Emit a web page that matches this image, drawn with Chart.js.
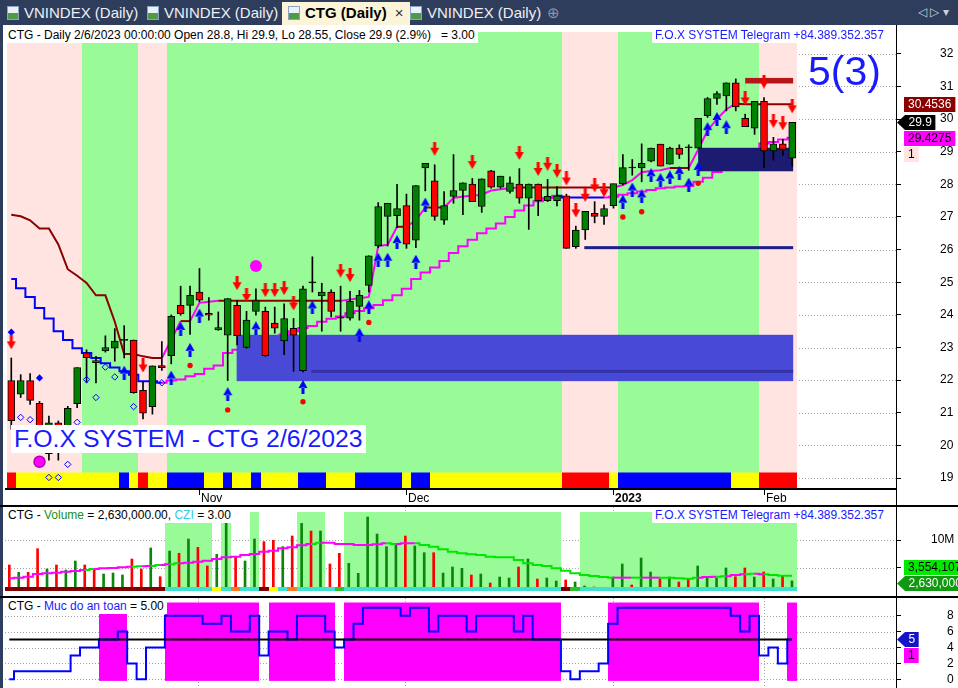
<!DOCTYPE html>
<html><head><meta charset="utf-8">
<script src="https://cdn.jsdelivr.net/npm/chart.js@4.4.0/dist/chart.umd.min.js"></script>
<style>
html,body{margin:0;padding:0;background:#fff;}
body{width:958px;height:688px;position:relative;overflow:hidden;font-family:"Liberation Sans",Arial,sans-serif;}
canvas{position:absolute;left:0;}
#tabs{position:absolute;left:0;top:0;width:958px;height:25px;background:#2e3d5b;}
.tab{position:absolute;top:0;height:25px;line-height:25px;font-size:15px;color:#eef0f4;white-space:nowrap;}
.tab.active{top:2px;height:23px;line-height:22px;background:#fbf4d8;color:#000;font-weight:bold;padding:0 6px 0 6px;}
.ico{display:inline-block;width:12px;height:14px;vertical-align:-2px;margin-right:5px;background:linear-gradient(#eaf1fb 0 50%,#4f9a46 50% 100%);border:1px solid #8aa2c4;box-sizing:border-box;}
.box{position:absolute;background:#fff;white-space:nowrap;font-size:12px;line-height:16px;height:16px;padding:0 3px;}
.hl{position:absolute;background:#000;}
</style></head><body>
<div id="tabs">
  <div class="tab" style="left:7px"><span class="ico"></span>VNINDEX (Daily)</div>
  <div class="tab" style="left:147px"><span class="ico"></span>VNINDEX (Daily)</div>
  <div class="tab active" style="left:282px"><span class="ico"></span>CTG (Daily) <span style="font-weight:normal;color:#333;margin-left:4px">×</span></div>
  <div class="tab" style="left:410px"><span class="ico"></span>VNINDEX (Daily)</div>
  <div class="tab" style="left:547px;color:#8a96aa">⊕</div>
  <div class="tab" style="left:918px;font-size:12px;color:#c9d0dc">◁ ▷ ▾</div>
</div>

<canvas id="cMain" width="958" height="480" style="top:25px"></canvas>
<canvas id="cVol" width="958" height="89" style="top:507px"></canvas>
<canvas id="cLvl" width="958" height="90" style="top:598px"></canvas>

<div class="hl" style="left:0;top:25px;width:3px;height:663px;background:#2e3d5b"></div>
<div class="hl" style="left:5px;top:488px;width:891px;height:2px"></div>
<div class="hl" style="left:0;top:505px;width:958px;height:2px"></div>
<div class="hl" style="left:0;top:596px;width:958px;height:2px"></div>
<div class="hl" style="left:896px;top:25px;width:1px;height:663px"></div>

<div class="box" style="left:5px;top:27px">CTG - Daily 2/6/2023 00:00:00 Open 28.8, Hi 29.9, Lo 28.55, Close 29.9 (2.9%)&nbsp;&nbsp; = 3.00</div>
<div class="box" style="left:652px;top:27px;color:#1a1aff">F.O.X SYSTEM Telegram +84.389.352.357</div>
<div style="position:absolute;left:808px;top:51px;font-size:41px;line-height:40px;color:#1a1aff;white-space:nowrap">5(3)</div>
<div class="box" style="left:11px;top:425px;height:28px;line-height:28px;font-size:24.8px;color:#1a1aff">F.O.X SYSTEM - CTG 2/6/2023</div>

<div class="box" style="left:5px;top:507px">CTG - <span style="color:#1a8f1a">Volume</span> = 2,630,000.00, <span style="color:#33c8e8">CZI</span> = 3.00</div>
<div class="box" style="left:652px;top:507px;color:#1a1aff">F.O.X SYSTEM Telegram +84.389.352.357</div>
<div class="box" style="left:5px;top:598px">CTG - <span style="color:#1a1aff">Muc do an toan</span> = 5.00</div>

<script>
// ---------------- DATA ----------------
const monthTickBars = [20, 42, 64, 80];
const monthLabels = ['Nov', 'Dec', '2023', 'Feb'];
const priceTicks = [19,20,21,22,23,24,25,26,27,28,29,30,31,32];
const volTicks = [5, 10];
const levelTicks = [0, 2, 4, 6, 8];

const opens = [21.99,21.57,21.99,21.29,19.75,20.69,20.5,21.28,22.84,22.6,
 22.9,22.98,23.22,23.23,21.69,21.19,22.45,22.75,24.29,24.29,
 24.7,24.05,23.54,23.38,24.29,23.0,24.11,24.11,23.75,23.2,
 23.59,22.29,24.98,24.58,24.7,23.9,23.9,24.26,24.9,26.11,
 27.02,27.04,27.35,26.29,28.5,28.11,26.9,27.63,27.81,28.01,
 27.32,28.41,27.91,27.78,28.01,27.58,28.01,27.5,27.5,27.65,
 26.09,26.6,27.11,27.02,27.35,28.01,28.5,28.5,28.71,29.23,
 28.62,29.11,29.12,29.11,30.1,30.63,30.71,31.11,30.02,29.72,
 30.54,29.02,29.24,28.8];
const highs = [22.68,22.17,22.2,21.35,20.9,20.75,21.2,22.39,22.93,22.73,
 23.36,23.58,23.67,23.23,21.95,22.44,23.18,24.0,24.88,24.88,
 25.42,24.53,24.09,24.5,24.44,24.11,24.8,24.24,24.24,24.34,
 23.89,24.88,25.78,24.97,24.77,24.88,24.72,24.75,25.81,27.44,
 27.42,28.0,27.7,27.96,28.64,28.6,27.78,28.91,28.05,28.18,
 28.17,28.43,28.25,28.23,28.48,28.01,28.01,28.15,27.93,27.7,
 26.72,27.17,27.47,27.37,28.01,28.91,28.76,29.24,29.11,29.23,
 29.14,29.21,29.21,30.02,30.66,30.84,31.11,31.23,30.15,30.54,
 30.66,29.44,29.38,29.9];
const lows = [20.5,21.47,21.26,20.3,19.55,19.55,20.35,21.16,21.92,21.92,
 22.86,22.58,22.68,21.6,20.81,20.96,22.3,22.5,23.99,23.4,
 24.4,23.84,23.53,21.99,23.08,22.98,23.99,22.73,23.44,22.78,
 22.27,22.25,24.7,23.5,23.94,23.5,23.84,23.84,24.7,26.06,
 26.11,26.67,26.04,26.06,27.8,26.9,26.77,27.42,27.07,27.47,
 27.14,27.88,27.88,27.73,27.42,26.62,27.04,27.47,27.34,26.04,
 26.04,26.31,26.82,26.77,27.27,27.98,28.28,28.08,28.69,28.56,
 28.62,28.79,28.43,29.11,30.05,30.45,30.25,30.25,29.77,29.53,
 28.52,28.74,28.89,28.55];
const closes = [20.76,21.99,21.38,20.45,20.69,20.55,21.14,22.39,22.69,22.54,
 23.0,23.2,23.22,21.62,20.99,22.44,22.38,23.96,24.04,24.6,
 24.45,23.99,23.61,24.5,23.36,23.84,24.44,22.75,23.59,23.89,
 23.38,24.8,24.98,24.7,24.11,23.9,24.42,24.6,25.81,27.32,
 27.42,27.26,26.17,27.96,28.64,27.02,27.35,27.81,28.05,27.47,
 28.17,27.91,28.25,28.05,27.58,28.01,27.5,27.63,27.65,26.04,
 26.6,27.17,27.02,27.26,28.02,28.51,28.5,28.64,29.11,28.56,
 29.11,28.92,29.12,30.02,30.63,30.78,31.11,30.37,29.77,30.54,
 29.02,29.24,29.07,29.9];

// fast trailing line (maroon when not rising, magenta when rising)
const fastLine = [27.07,27.02,26.9,26.65,26.65,26.16,25.4,25.2,24.98,24.6,
 24.6,23.79,22.8,22.8,22.73,22.68,22.68,23.23,23.81,23.81,
 24.37,24.4,24.43,24.43,24.43,24.43,24.43,24.43,24.43,24.43,
 24.43,24.43,24.43,24.43,24.43,24.43,24.47,24.51,24.55,26.11,
 26.15,26.7,26.7,26.9,27.29,27.29,27.29,27.58,27.63,27.65,
 27.68,27.81,27.85,27.88,27.9,27.9,27.9,27.9,27.9,27.9,
 27.9,27.9,27.9,27.9,27.9,27.98,28.13,28.37,28.41,28.43,
 28.5,28.5,28.5,29.06,29.65,30.0,30.3,30.47,30.4536,30.4536,
 30.4536,30.4536,30.4536,30.4536];
// slow stepped line (blue when not rising, magenta when rising)
const slowLine = [25.1,24.82,24.55,24.21,23.89,23.5,23.23,22.98,22.83,22.68,
 22.52,22.39,22.27,22.17,21.97,21.97,21.92,21.99,22.02,22.12,
 22.19,22.35,22.45,22.83,22.93,23.0,23.1,23.2,23.3,23.4,
 23.5,23.6,23.66,23.79,23.88,23.95,24.05,24.12,24.2,24.3,
 24.45,24.6,24.8,25.1,25.3,25.45,25.65,25.9,26.1,26.3,
 26.5,26.65,26.8,27.0,27.2,27.35,27.48,27.58,27.65,27.6,
 27.6,27.6,27.6,27.6,27.62,27.68,27.73,27.78,27.83,27.88,
 27.9,27.93,27.95,28.08,28.2,28.38,28.55,28.7,28.85,29.0,
 29.25,29.3,29.37,29.4275];

// background state per bar: p = pink, g = green
const trendState = 'ppppppppggggggpppggggggggggggggggggggggggggggggggggggggggggppppppgggggggggggggggpppp';
// colour strip at bottom of price pane: R red, Y yellow, B blue
const stripMain = 'RYYYYYYYYYYYBYRYYBBBBYYBYYBYYYYBBBYYYBBBBBYBBYYYYYYYYYYYYYYRRRRRYBBBBBBBBBBBBYYYRRRR';

// signal markers
const downArrowBars = [0,14,24,25,27,28,29,30,35,36,45,49,54,56,57,58,59,60,61,62,63,78,80,81,82,83];
const downArrowPrices = [23.16,22.45,24.97,24.61,24.76,24.76,24.82,24.35,25.36,25.22,29.09,28.68,28.96,28.47,28.63,28.42,28.18,27.2,27.68,27.97,27.82,30.63,31.15,29.94,29.87,30.39];
const upArrowBars = [12,17,18,19,20,23,26,31,32,37,38,39,40,41,43,44,65,66,67,68,69,70,71,72,73,74,75,76];
const upArrowPrices = [22.23,22.08,23.57,22.93,23.98,21.57,23.59,21.79,24.23,23.39,24.23,25.69,25.69,26.23,25.63,27.38,27.47,27.84,27.63,28.28,28.13,28.21,28.35,27.99,28.47,29.69,30.0,29.75];
const redDotBars = [19,23,31,38,65,67,73];
const redDotPrices = [22.45,21.09,21.34,23.77,27.0,27.16,28.03];
const blueDiamondBars = [0,3];
const blueDiamondPrices = [23.47,22.07];
const hollowDiamondBars = [1,2,4,5,6,7,8,9,10,11,13,16];
const hollowDiamondPrices = [20.86,20.79,19.02,19.02,19.42,20.71,22.02,21.47,22.4,22.1,21.19,21.92];
const magentaDotBars = [26,3];
const magentaDotPrices = [25.5,19.5];

// zones (bar range and price range)
const zoneFrom = [23.95,73,78];
const zoneTo = [83.1,83.1,83.1];
const zoneLow = [21.97,28.4,31.09];
const zoneHigh = [23.39,29.12,31.26];
const zoneColors = ['#4949d8','#1b1b72','#b5161a'];
const segFrom = [31.9,60.9];
const segTo = [83.1,83.1];
const segPrice = [22.27,26.06];
const segColors = ['#3434a8','#1f1f88'];

// volume (millions)
const volume = [5.49,4.16,4.16,8.44,4.77,5.49,4.58,6.21,5.49,4.77,
 3.86,4.04,3.68,6.57,4.77,8.56,3.38,8.01,7.6,10.18,
 8.68,5.31,7.42,13.0,6.99,6.21,10.18,9.7,9.94,8.8,
 10.72,13.0,11.62,11.62,5.67,7.6,5.79,3.98,14.15,11.08,
 8.8,9.4,10.72,8.92,7.71,7.71,4.04,5.13,4.89,3.68,
 3.86,2.24,3.32,3.14,5.13,6.57,2.96,3.14,2.6,2.78,
 2.42,1.7,1.52,1.15,3.32,5.67,1.88,6.75,4.22,2.96,
 3.32,2.42,2.96,5.31,3.32,3.14,4.95,3.38,4.95,3.32,
 4.22,2.96,3.5,2.63];
const dojiVolUp = {12:1, 32:0, 35:0, 66:0, 72:0};
const volMA = [3.08,3.2,3.38,3.86,3.98,4.1,4.28,4.4,4.58,4.77,
 4.89,4.95,5.07,5.19,5.25,5.31,5.49,5.61,5.79,5.91,
 6.09,6.27,6.57,6.87,6.99,7.29,7.47,7.89,8.07,8.5,
 8.68,9.04,9.28,9.52,9.52,9.28,9.28,9.1,9.1,9.22,
 9.4,9.28,9.4,9.4,9.1,8.8,8.32,7.89,7.59,7.41,
 7.29,6.99,6.87,6.87,6.39,5.79,5.49,5.31,4.89,4.46,
 3.98,3.68,3.5,3.32,3.2,3.2,3.2,3.2,3.2,3.2,
 3.2,3.08,3.02,3.2,3.32,3.38,3.44,3.68,3.8,3.92,
 3.8,3.68,3.56,3.554107];
const volMAColor = 'mmmmmmmmgmmmmgmgmgmmmmmmmmmmmmmmgmmmmmmmgmmgggggggggggggggggggggmmgmmggggmmgmmgmgggg';
const volBands = '000000000000000001111101001000011100111111111111111111111110011111111111111111111111';
const volStrip = 'DDDDDDDDDDDDDDDDDTTTTTYTOTTDYTOTTTTGTTTTTTTTTTTTTTTTTTTTTTTDGTTTTTTTTTTTTTTTTTTTTTTT';

// safety level pane
const level = [0,1,1,1,1,1,1,3,4,4,
 5,5,6,2,0,4,4,8,8,8,
 8,7,7,8,6,6,8,3,6,6,
 5,8,8,8,6,4,5,7,9,9,
 9,9,8,9,9,6,8,8,8,6,
 8,8,8,8,6,8,5,5,5,1,
 0,1,1,2,7,9,9,9,9,9,
 9,9,9,9,9,9,9,8,6,8,
 3,4,2,5];
const safetyLevel = 5;
const trendLabelValue = 1;

// ---------------- RENDER ----------------
const N = closes.length;
const xMin = -0.456, xMax = 94.03;
const FONT = '"Liberation Sans", Arial, sans-serif';
const stripCol = {R:'#ff0000', Y:'#ffff00', B:'#0000ff'};
const vStripCol = {D:'#800000', T:'#40e0d0', Y:'#ffff00', O:'#ff7a22', G:'#2fc02f'};

function pts(bars, vals){ return bars.map((b,i)=>({x:b, y:vals[i]})); }
function series(vals){ return vals.map((v,i)=>({x:i, y:v})); }
function barL(x,i,a){ return i===0 ? a.left : Math.round(x.getPixelForValue(i-0.5)); }
function barR(x,i){ return Math.round(x.getPixelForValue(i+0.5)); }

function makeArrow(color, down){
  const c = document.createElement('canvas'); c.width = 10; c.height = 14;
  const g = c.getContext('2d'); g.fillStyle = color;
  g.beginPath();
  if (down){ g.rect(3.5,0,3,6.5); g.moveTo(0.5,6); g.lineTo(9.5,6); g.lineTo(5,14); }
  else { g.rect(3.5,7.5,3,6.5); g.moveTo(0.5,8); g.lineTo(9.5,8); g.lineTo(5,0); }
  g.closePath(); g.fill();
  return c;
}

function yAxis(min, max, ticks, fmt, pad){
  return {
    position:'right', min, max,
    afterBuildTicks: s => { s.ticks = ticks.map(v => ({value:v})); },
    afterFit: s => { s.width = 62; s.paddingTop = 0; s.paddingBottom = 0; },
    ticks:{ callback: fmt, padding: pad, color:'#000', font:{family:FONT, size:12}, autoSkip:false },
    grid:{ drawOnChartArea:false, drawTicks:true, tickLength:5, tickColor:'#000', color:'#000' },
    border:{ display:false }
  };
}
function xAxis(){ return { type:'linear', min:xMin, max:xMax, display:false, offset:false }; }
function baseOpts(pad, yCfg){
  return {
    responsive:false, animation:false, devicePixelRatio:1, events:[],
    layout:{ padding: pad },
    plugins:{ legend:{display:false}, tooltip:{enabled:false} },
    scales:{ x: xAxis(), y: yCfg }
  };
}

function dottedH(ctx, a, yScale, vals){
  ctx.save(); ctx.strokeStyle = '#a6a6a6'; ctx.lineWidth = 1; ctx.setLineDash([1,2]);
  vals.forEach(v => { const py = Math.round(yScale.getPixelForValue(v)) + 0.5;
    ctx.beginPath(); ctx.moveTo(a.left, py); ctx.lineTo(a.right, py); ctx.stroke(); });
  ctx.restore();
}
function dottedV(ctx, a, xScale){
  ctx.save(); ctx.strokeStyle = '#a6a6a6'; ctx.lineWidth = 1; ctx.setLineDash([1,2]);
  monthTickBars.forEach(b => { const px = Math.round(xScale.getPixelForValue(b)) + 0.5;
    ctx.beginPath(); ctx.moveTo(px, a.top); ctx.lineTo(px, a.bottom); ctx.stroke(); });
  ctx.restore();
}

function drawLabels(ctx, items, limitBottom){
  ctx.save(); ctx.font = '12px ' + FONT; ctx.textBaseline = 'middle';
  const GAP = 16;
  let prev = -1e9;
  items.forEach(it => { if (it.y == null || it.y < prev + GAP) it.y = prev + GAP; prev = it.y; });
  for (let k = items.length - 1; k >= 0; k--){
    const lim = k === items.length - 1 ? limitBottom : items[k+1].y - GAP;
    if (items[k].y > lim) items[k].y = lim;
  }
  items.forEach(it => {
    const tw = ctx.measureText(it.text).width;
    const by = Math.round(it.y - 7.5);
    ctx.fillStyle = it.bg;
    if (it.pointer){
      ctx.beginPath(); ctx.moveTo(897, by + 7.5); ctx.lineTo(905, by); ctx.lineTo(912 + tw, by);
      ctx.lineTo(912 + tw, by + 15); ctx.lineTo(905, by + 15); ctx.closePath(); ctx.fill();
      ctx.fillStyle = it.fg; ctx.fillText(it.text, 908.5, by + 8);
    } else {
      ctx.fillRect(904, by, tw + 8, 15);
      ctx.fillStyle = it.fg; ctx.fillText(it.text, 908, by + 8);
    }
  });
  ctx.restore();
}

// ---------- main price pane ----------
const mainDecor = {
  id:'mainDecor',
  beforeDatasetsDraw(chart){
    const {ctx, chartArea:a, scales:{x, y}} = chart;
    dottedH(ctx, a, y, priceTicks);
    ctx.save();
    for (let i = 0; i < N; i++){
      const l = barL(x,i,a), r = barR(x,i);
      ctx.fillStyle = trendState[i] === 'g' ? '#98fb98' : '#ffe4e1';
      ctx.fillRect(l, a.top, r - l, a.bottom - a.top);
    }
    for (let i = 0; i < N; i++){
      const l = barL(x,i,a), r = barR(x,i);
      ctx.fillStyle = stripCol[stripMain[i]];
      ctx.fillRect(l, a.bottom - 15.5, r - l, 15.5);
    }
    ctx.restore();
  },
  beforeDatasetDraw(chart, args){
    if (args.index !== 2) return;
    const {ctx, scales:{x, y}} = chart;
    ctx.save();
    zoneFrom.forEach((f,k) => {
      const x0 = x.getPixelForValue(f), x1 = x.getPixelForValue(zoneTo[k]);
      const y0 = y.getPixelForValue(zoneHigh[k]), y1 = y.getPixelForValue(zoneLow[k]);
      ctx.fillStyle = zoneColors[k]; ctx.fillRect(x0, y0, x1 - x0, y1 - y0);
    });
    segFrom.forEach((f,k) => {
      const x0 = x.getPixelForValue(f), x1 = x.getPixelForValue(segTo[k]);
      const py = y.getPixelForValue(segPrice[k]);
      ctx.fillStyle = segColors[k]; ctx.fillRect(x0, py - 1.5, x1 - x0, 3);
    });
    ctx.restore();
  },
  afterDraw(chart){
    const {ctx, chartArea:a, scales:{x, y}} = chart;
    ctx.save();
    ctx.strokeStyle = '#000'; ctx.lineWidth = 1; ctx.fillStyle = '#000';
    ctx.textBaseline = 'alphabetic';
    monthTickBars.forEach((b,k) => {
      const px = Math.round(x.getPixelForValue(b)) + 0.5;
      ctx.beginPath(); ctx.moveTo(px, a.bottom); ctx.lineTo(px, a.bottom + 7); ctx.stroke();
      ctx.font = (monthLabels[k] === '2023' ? 'bold ' : '') + '12px ' + FONT;
      ctx.fillText(monthLabels[k], px + 1.5, a.bottom + 14);
    });
    ctx.restore();
    const last = N - 1;
    const items = [
      {y:y.getPixelForValue(fastLine[last]), text:fastLine[last].toFixed(4), bg:'#8b0000', fg:'#fff'},
      {y:y.getPixelForValue(closes[last]), text:String(closes[last]), bg:'#000', fg:'#fff', pointer:true},
      {y:y.getPixelForValue(slowLine[last]), text:slowLine[last].toFixed(4), bg:'#ff00ff', fg:'#000'}
    ].sort((p,q) => p.y - q.y);
    items.push({y:null, text:String(trendLabelValue), bg:'#ffe4e1', fg:'#000'});
    drawLabels(ctx, items, a.bottom - 12);
  }
};

const arrowDown = makeArrow('#ff0000', true);
const arrowUp = makeArrow('#0000ff', false);

new Chart(document.getElementById('cMain'), {
  type:'bar',
  data:{ datasets:[
    { type:'line', data:series(slowLine), borderWidth:2, pointRadius:0, stepped:'middle', order:20,
      borderColor:'#0000ff',
      segment:{ borderColor: c => slowLine[c.p1DataIndex] > slowLine[c.p0DataIndex] ? '#ff00ff' : '#0000ff' } },
    { type:'line', data:series(fastLine), borderWidth:2, pointRadius:0, order:19,
      borderColor:'#8b0000',
      segment:{ borderColor: c => fastLine[c.p1DataIndex] > fastLine[c.p0DataIndex] ? '#ff00ff' : '#8b0000' } },
    { type:'bar', data:lows.map((l,i) => ({x:i, y:[l, highs[i]]})), backgroundColor:'#000',
      barThickness:1, grouped:false, order:10 },
    { type:'bar', data:opens.map((o,i) => ({x:i, y:[o, closes[i]]})),
      backgroundColor: c => closes[c.dataIndex] > opens[c.dataIndex] ? '#008000' : (closes[c.dataIndex] < opens[c.dataIndex] ? '#ff0000' : '#000'),
      borderColor:'#000', borderWidth:1, borderSkipped:false, barThickness:7, minBarLength:1, grouped:false, order:9 },
    { type:'line', data:pts(magentaDotBars, magentaDotPrices), showLine:false, order:6,
      pointStyle:'circle', pointRadius:[6,5.5], pointBackgroundColor:'#ff00ff', pointBorderColor:['#ff00ff','#b000b0'], pointBorderWidth:[0,1.5] },
    { type:'line', data:pts(hollowDiamondBars, hollowDiamondPrices), showLine:false, order:5,
      pointStyle:'rectRot', pointRadius:3.2, pointBackgroundColor:'rgba(0,0,0,0)', pointBorderColor:'#0000ff', pointBorderWidth:1 },
    { type:'line', data:pts(blueDiamondBars, blueDiamondPrices), showLine:false, order:4,
      pointStyle:'rectRot', pointRadius:3.6, pointBackgroundColor:'#0000ff', pointBorderWidth:0 },
    { type:'line', data:pts(redDotBars, redDotPrices), showLine:false, order:3,
      pointStyle:'circle', pointRadius:2.7, pointBackgroundColor:'#ff0000', pointBorderWidth:0 },
    { type:'line', data:pts(upArrowBars, upArrowPrices), showLine:false, order:2, pointStyle:arrowUp, pointRadius:5 },
    { type:'line', data:pts(downArrowBars, downArrowPrices), showLine:false, order:1, pointStyle:arrowDown, pointRadius:5 }
  ]},
  options: baseOpts({left:5, right:0, top:2, bottom:17}, yAxis(18.697, 32.667, priceTicks, v => String(v), 39)),
  plugins:[mainDecor]
});

// ---------- volume pane ----------
const volDecor = {
  id:'volDecor',
  beforeDatasetsDraw(chart){
    const {ctx, chartArea:a, scales:{x, y}} = chart;
    dottedH(ctx, a, y, volTicks); dottedV(ctx, a, x);
    ctx.save(); ctx.fillStyle = '#98fb98';
    for (let i = 0; i < N; i++){ if (volBands[i] !== '1') continue;
      const l = barL(x,i,a), r = barR(x,i); ctx.fillRect(l, a.top + 5, r - l, a.bottom - a.top - 10); }
    ctx.restore();
  },
  afterDatasetsDraw(chart){
    const {ctx, chartArea:a, scales:{x}} = chart;
    ctx.save();
    for (let i = 0; i < N; i++){ const l = barL(x,i,a), r = barR(x,i);
      ctx.fillStyle = vStripCol[volStrip[i]]; ctx.fillRect(l, a.bottom - 9, r - l, 4); }
    ctx.fillStyle = '#fff'; ctx.fillRect(a.left, a.bottom - 5, a.right - a.left, 5);
    ctx.restore();
  },
  afterDraw(chart){
    const {ctx, chartArea:a, scales:{y}} = chart;
    const last = N - 1;
    const items = [
      {y:y.getPixelForValue(volMA[last]), text:Math.round(volMA[last]*1e6).toLocaleString('en-US'), bg:'#00ea00', fg:'#000'},
      {y:y.getPixelForValue(volume[last]), text:Math.round(volume[last]*1e6).toLocaleString('en-US'), bg:'#109a10', fg:'#fff', pointer:true}
    ].sort((p,q) => p.y - q.y);
    drawLabels(ctx, items, a.bottom - 12.5);
  }
};
function volUp(i){ if (i in dojiVolUp) return dojiVolUp[i] === 1; return closes[i] > opens[i]; }
new Chart(document.getElementById('cVol'), {
  type:'bar',
  data:{ datasets:[
    { type:'line', data:series(volMA), borderWidth:2, pointRadius:0, stepped:'middle', order:1, borderColor:'#ff00ff',
      segment:{ borderColor: c => volMAColor[c.p0DataIndex] === 'g' ? '#00e600' : '#ff00ff' } },
    { type:'bar', data:series(volume), backgroundColor: c => volUp(c.dataIndex) ? '#0a870a' : '#ff0000',
      barThickness:2, grouped:false, order:5 }
  ]},
  options: baseOpts({left:5, right:0, top:0, bottom:0}, yAxis(-0.108, 15.957, volTicks, v => v + 'M', 30)),
  plugins:[volDecor]
});

// ---------- safety level pane ----------
const lvlDecor = {
  id:'lvlDecor',
  beforeDatasetsDraw(chart){
    const {ctx, chartArea:a, scales:{x, y}} = chart;
    dottedH(ctx, a, y, levelTicks); dottedV(ctx, a, x);
    ctx.save(); ctx.fillStyle = '#ff00ff';
    const yb = y.getPixelForValue(-0.2);
    for (let i = 0; i < N; i++){ if (level[i] < safetyLevel) continue;
      const l = barL(x,i,a), r = barR(x,i); ctx.fillRect(l, a.top + 4.5, r - l, yb - a.top - 4.5); }
    ctx.restore();
  },
  afterDraw(chart){
    const {ctx, chartArea:a, scales:{y}} = chart;
    const items = [
      {y:y.getPixelForValue(level[N-1]), text:String(level[N-1]), bg:'#1414c8', fg:'#fff', pointer:true},
      {y:null, text:String(trendLabelValue), bg:'#ff00ff', fg:'#000'}
    ];
    drawLabels(ctx, items, a.bottom - 10);
  }
};
new Chart(document.getElementById('cLvl'), {
  type:'line',
  data:{ datasets:[
    { data:level.map((v,i) => ({x:i, y:safetyLevel})), borderColor:'#000', borderWidth:2, pointRadius:0, order:1 },
    { data:series(level), borderColor:'#0000ff', borderWidth:2, pointRadius:0, stepped:'middle', order:2 }
  ]},
  options: baseOpts({left:5, right:0, top:0, bottom:0}, yAxis(-1.094, 10.226, levelTicks, v => String(v), 46)),
  plugins:[lvlDecor]
});
</script>
</body></html>
